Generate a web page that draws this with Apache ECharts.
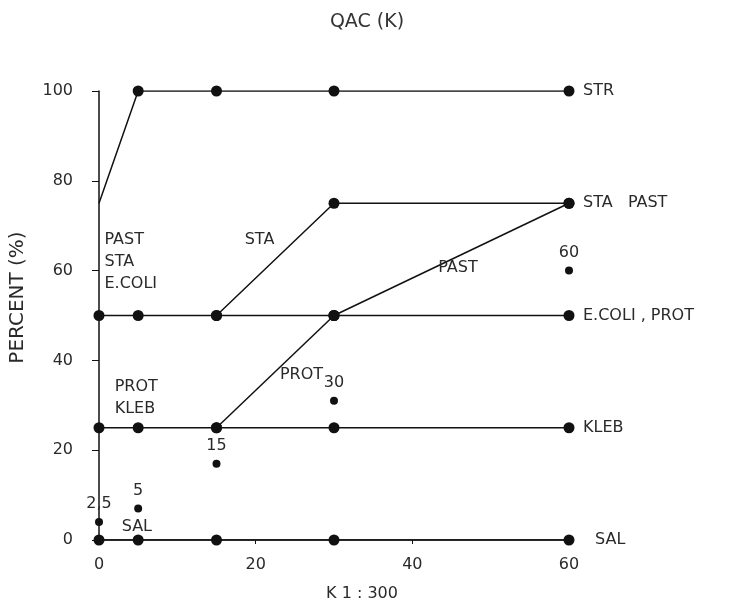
<!DOCTYPE html>
<html><head><meta charset="utf-8">
<script src="https://cdn.jsdelivr.net/npm/echarts@6/dist/echarts.min.js"></script>
<style>html,body{margin:0;padding:0;background:#fff}#c{width:730px;height:610px}</style>
</head><body><div id="c"></div>
<script>
var xTicks = [0, 20, 40, 60];
var yTicks = [0, 20, 40, 60, 80, 100];
var strData   = [[0,75],[5,100],[15,100],[30,100],[60,100]];
var staData   = [[15,50],[30,75],[60,75]];
var pastData  = [[30,50],[60,75]];
var protData  = [[15,25],[30,50]];
var ecoliData = [[0,50],[5,50],[15,50],[30,50],[60,50]];
var klebData  = [[0,25],[5,25],[15,25],[30,25],[60,25]];
var salData   = [[0,0],[5,0],[15,0],[30,0],[60,0]];
var kPoints   = [[0,4],[5,7],[15,17],[30,31],[60,60]];
var kLabels   = ['2,5','5','15','30','60'];
var endLabels = [['STR',60,100],['STA   PAST',60,75],['E.COLI , PROT',60,50],['KLEB',60,25],['SAL',60,0]];
var notes = [
  ['PAST\nSTA\nE.COLI', 0.7, 62],
  ['PROT\nKLEB', 2.0, 31.7],
  ['STA', 18.6, 66.8],
  ['PAST', 43.3, 60.6],
  ['PROT', 23.1, 36.7],
  ['SAL', 2.9, 2.9]
];
var FONT = 'DejaVu Sans';
var TXT = '#2a2a2a';
function lineSeries(name, data, noFirstSymbol) {
  return {
    name: name, type: 'line', data: data.map(function (d, i) {
      return (noFirstSymbol && i === 0) ? {value: d, symbol: 'none'} : d;
    }),
    symbol: 'circle', symbolSize: 11, showSymbol: true,
    lineStyle: {color: '#111', width: 1.5},
    itemStyle: {color: '#111', opacity: 1},
    z: 3, silent: true, animation: false
  };
}
var chart = echarts.init(document.getElementById('c'));
chart.setOption({
  backgroundColor: '#fff',
  animation: false,
  title: {text: 'QAC (K)', left: 362, top: 8, textAlign: 'center',
    textStyle: {fontFamily: FONT, fontSize: 19, fontWeight: 'normal', color: '#333'}},
  grid: {left: 99, right: 161, top: 91, bottom: 70, containLabel: false, outerBoundsMode: 'none'},
  xAxis: {
    type: 'value', min: 0, max: 60, interval: 20,
    name: 'K 1 : 300', nameLocation: 'middle', nameGap: 46,
    nameTextStyle: {fontFamily: FONT, fontSize: 16, color: TXT, padding: [0,0,0,56]},
    axisLine: {show: true, lineStyle: {color: '#111', width: 1.5}},
    axisTick: {show: true, length: 4, lineStyle: {color: '#111'}},
    axisLabel: {fontFamily: FONT, fontSize: 16, color: TXT, margin: 17,
      formatter: function (v) { return xTicks.indexOf(v) >= 0 ? String(v) : ''; }},
    splitLine: {show: false}
  },
  yAxis: {
    type: 'value', min: 0, max: 100, interval: 20,
    name: 'PERCENT (%)', nameLocation: 'middle', nameGap: 71, nameRotate: 90,
    nameTextStyle: {fontFamily: FONT, fontSize: 20, color: TXT, padding: [0,0,0,36]},
    axisLine: {show: true, lineStyle: {color: '#111', width: 1.5}},
    axisTick: {show: true, length: 7, lineStyle: {color: '#111'}},
    axisLabel: {fontFamily: FONT, fontSize: 16, color: TXT, margin: 26,
      formatter: function (v) { return yTicks.indexOf(v) >= 0 ? String(v) : ''; }},
    splitLine: {show: false}
  },
  series: [
    lineSeries('STR', strData, true),
    lineSeries('STA', staData),
    lineSeries('PAST', pastData),
    lineSeries('PROT', protData),
    lineSeries('E.COLI', ecoliData),
    lineSeries('KLEB', klebData),
    lineSeries('SAL', salData),
    {
      name: 'K', type: 'scatter', symbol: 'circle', symbolSize: 8, z: 4,
      itemStyle: {color: '#111', opacity: 1},
      data: kPoints.map(function (d, i) { return {value: d, name: kLabels[i]}; }),
      label: {show: true, position: 'top', distance: 6, formatter: '{b}',
        fontFamily: FONT, fontSize: 16, color: TXT}
    },
    {
      name: 'endLabels', type: 'scatter', symbolSize: 0, z: 5, silent: true,
      itemStyle: {opacity: 1},
      data: endLabels.map(function (d) {
        var o = {value: [d[1], d[2]], name: d[0]};
        if (d[0] === 'SAL') o.label = {distance: 26};
        return o;
      }),
      label: {show: true, position: 'right', distance: 14, formatter: '{b}',
        fontFamily: FONT, fontSize: 16, color: TXT}
    },
    {
      name: 'notes', type: 'scatter', symbolSize: 0, z: 5, silent: true,
      itemStyle: {opacity: 1},
      data: notes.map(function (d) { return {value: [d[1], d[2]], name: d[0]}; }),
      label: {show: true, position: 'inside', align: 'left', verticalAlign: 'middle',
        formatter: '{b}', lineHeight: 22,
        fontFamily: FONT, fontSize: 16, color: TXT}
    }
  ]
});
</script></body></html>
